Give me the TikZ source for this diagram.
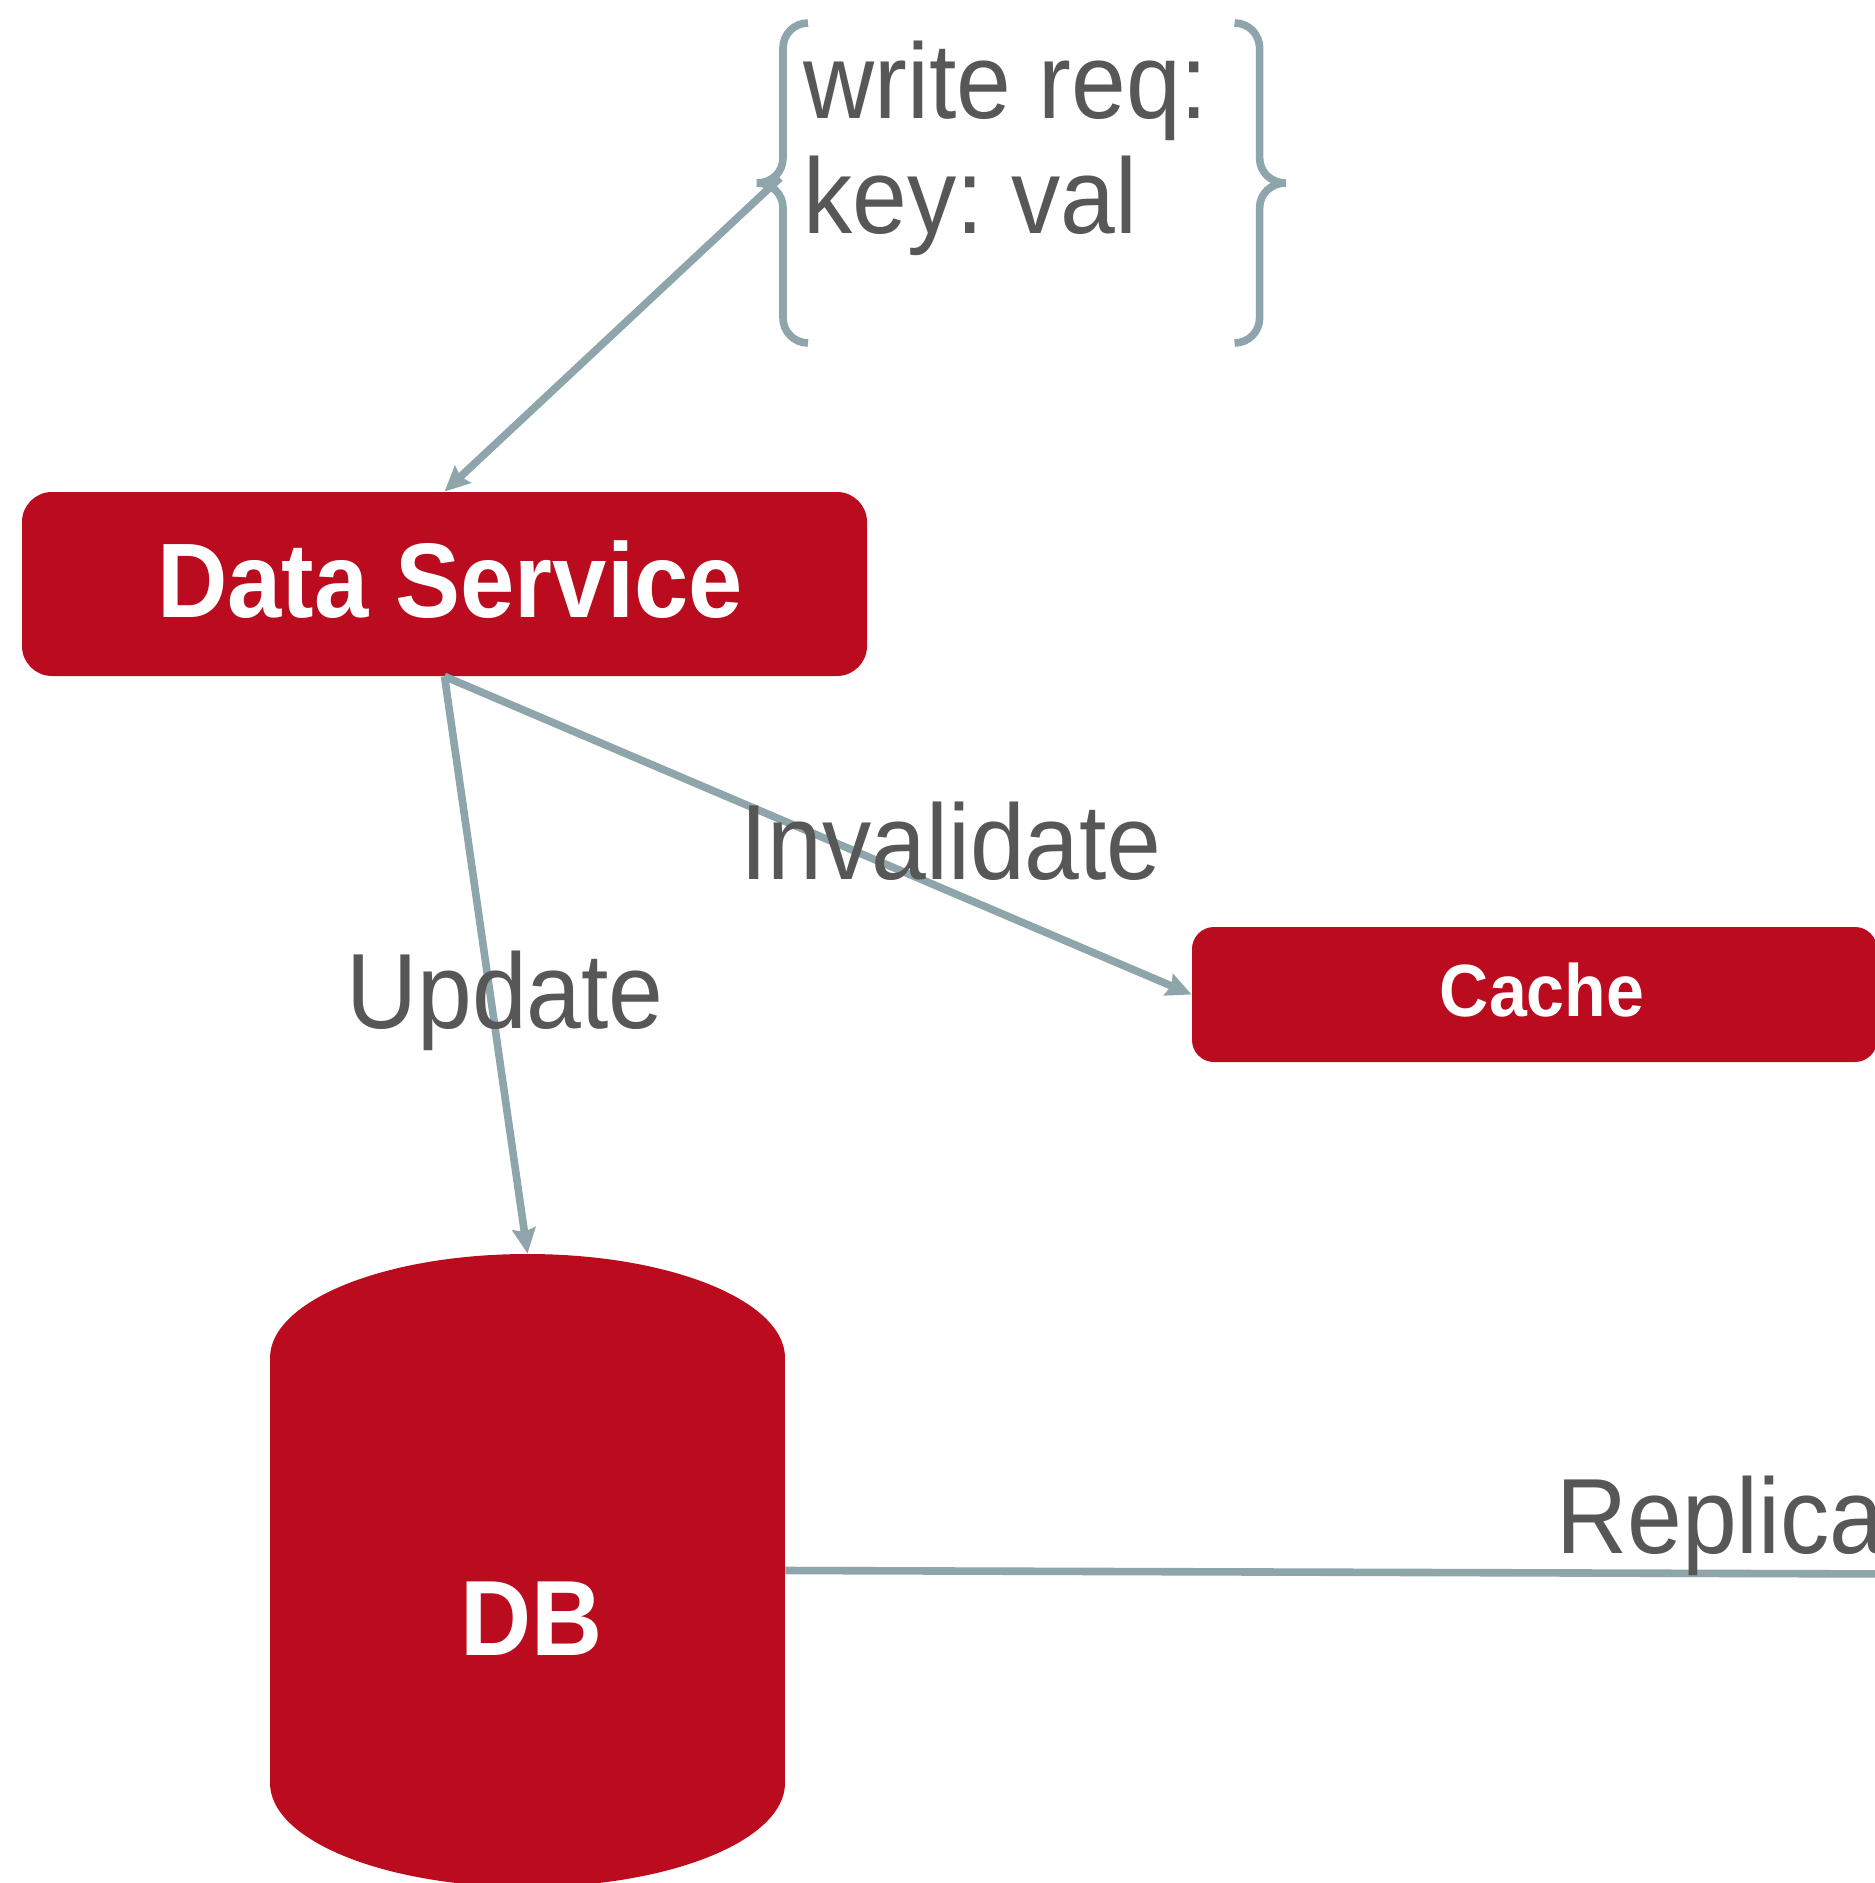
\documentclass[tikz,border=0pt]{standalone}
\usepackage{fontspec}
\setmainfont{Liberation Sans}[FakeStretch=0.92]
\usetikzlibrary{arrows.meta}
\frenchspacing

\definecolor{boxred}{RGB}{186,12,30}
\definecolor{wire}{RGB}{142,165,171}
\definecolor{inkgray}{RGB}{87,87,87}

\tikzset{
  box/.style={fill=boxred, text=white, inner sep=0pt},
  flow/.style={draw=wire, line width=3.8pt,
    -{Stealth[length=12.5pt, width=11.5pt, inset=1.5pt]}},
  plainwire/.style={draw=wire, line width=3.8pt},
  lbl/.style={text=inkgray, inner sep=0pt,
    font=\fontsize{53.5}{57.5}\selectfont},
  bracepen/.style={draw=wire, line width=3.8pt},
}

\begin{document}
\begin{tikzpicture}[x=0.5pt, y=-0.5pt]
\useasboundingbox (0,0) rectangle (1874,1883);
\fill[white] (0,0) rectangle (1874,1883);

% ---- request note with its curly brackets
\node[lbl, anchor=base west, align=left] (req) at (803,234)
  {write req:\\key: val};
\draw[bracepen] (808,23) .. controls (794.2,23) and (783,34.2) .. (783,48)
  -- (783,158) .. controls (783,172.4) and (771.4,183) .. (757,183)
  .. controls (771.4,183) and (783,193.6) .. (783,208)
  -- (783,318) .. controls (783,331.8) and (794.2,343) .. (808,343);
\draw[bracepen] (1234.6,23) .. controls (1248.4,23) and (1259.6,34.2) .. (1259.6,48)
  -- (1259.6,158) .. controls (1259.6,172.4) and (1271.2,183) .. (1285.6,183)
  .. controls (1271.2,183) and (1259.6,193.6) .. (1259.6,208)
  -- (1259.6,318) .. controls (1259.6,331.8) and (1248.4,343) .. (1234.6,343);
\coordinate (reqtip) at (780,178);

% ---- service and cache boxes
\node[box, rounded corners=15pt, minimum width=422.5pt, minimum height=92pt,
      font=\bfseries\fontsize{53}{60}\selectfont] (ds) at (444.5,584) {};
\node[text=white, inner sep=0pt, font=\bfseries\fontsize{53}{60}\selectfont]
  (dstext) at (450,580) {Data Service};
\node[box, rounded corners=11pt, minimum width=342.5pt, minimum height=67.5pt] (cache) at (1534.5,994.5) {};
\node[text=white, inner sep=0pt, font=\bfseries\fontsize{37}{44}\selectfont]
  (cachetext) at (1542,990) {Cache};

% ---- database cylinder
\fill[boxred] (527.5,1358) ellipse [x radius=257.5, y radius=104];
\fill[boxred] (270,1358) rectangle (785,1783);
\fill[boxred] (527.5,1783) ellipse [x radius=257.5, y radius=104];
\node[inner sep=0pt, minimum width=257.5pt, minimum height=316.5pt] (db) at (527.5,1570.5) {};
\node[text=white, inner sep=0pt, font=\bfseries\fontsize{53.5}{60}\selectfont]
  (dbtext) at (532,1619) {DB};

\coordinate (replend) at (1900,1574);

% ---- connectors
\draw[flow] (reqtip) -- (ds.north);
\draw[flow] (ds.south) -- (db.north);
\draw[flow] (ds.south) -- (cache.west);
\draw[plainwire] (db.east) -- (replend);

% ---- connector labels
\node[lbl, anchor=base] (updlbl) at (505,1028) {Update};
\node[lbl, anchor=base] (invlbl) at (951,879) {Invalidate};
\node[lbl, anchor=base west] (replbl) at (1556,1553) {Replication};
\end{tikzpicture}
\end{document}
